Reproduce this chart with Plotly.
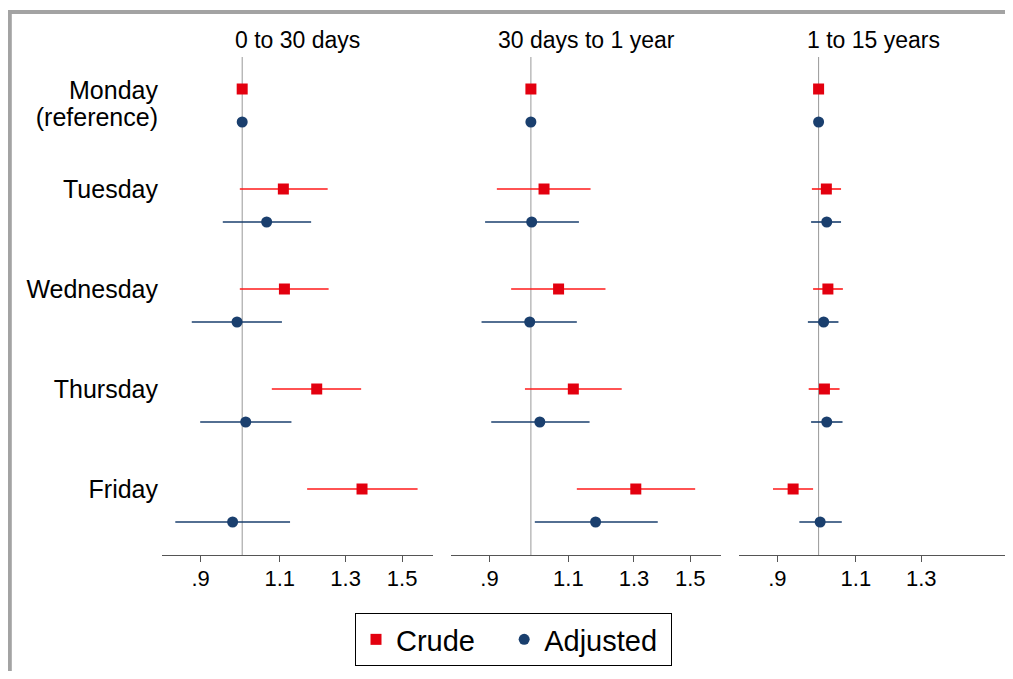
import plotly.graph_objects as go

# ---------------- data ----------------
days = ["Monday", "Tuesday", "Wednesday", "Thursday", "Friday"]
day_labels = ["Monday", "(reference)", "Tuesday", "Wednesday", "Thursday", "Friday"]
panels = ["0 to 30 days", "30 days to 1 year", "1 to 15 years"]
series_names = ["Crude", "Adjusted"]

# panel 1: 0 to 30 days
p1_crude = [1.000, 1.110, 1.113, 1.208, 1.355]
p1_crude_lo = [1.000, 0.994, 0.994, 1.078, 1.179]
p1_crude_hi = [1.000, 1.242, 1.245, 1.352, 1.560]
p1_adj = [1.000, 1.064, 0.987, 1.009, 0.976]
p1_adj_lo = [1.000, 0.952, 0.880, 0.899, 0.844]
p1_adj_hi = [1.000, 1.191, 1.106, 1.133, 1.129]

# panel 2: 30 days to 1 year
p2_crude = [1.000, 1.034, 1.073, 1.114, 1.306]
p2_crude_lo = [1.000, 0.917, 0.951, 0.985, 1.124]
p2_crude_hi = [1.000, 1.164, 1.209, 1.260, 1.519]
p2_adj = [1.000, 1.002, 0.997, 1.023, 1.179]
p2_adj_lo = [1.000, 0.890, 0.882, 0.904, 1.010]
p2_adj_hi = [1.000, 1.130, 1.124, 1.161, 1.381]

# panel 3: 1 to 15 years
p3_crude = [1.000, 1.020, 1.024, 1.015, 0.937]
p3_crude_lo = [1.000, 0.983, 0.986, 0.975, 0.890]
p3_crude_hi = [1.000, 1.059, 1.064, 1.055, 0.986]
p3_adj = [1.000, 1.021, 1.013, 1.021, 1.004]
p3_adj_lo = [1.000, 0.981, 0.973, 0.981, 0.952]
p3_adj_hi = [1.000, 1.059, 1.052, 1.063, 1.061]

tick_vals = [[0.9, 1.1, 1.3, 1.5], [0.9, 1.1, 1.3, 1.5], [0.9, 1.1, 1.3]]
tick_text = [[".9", "1.1", "1.3", "1.5"], [".9", "1.1", "1.3", "1.5"], [".9", "1.1", "1.3"]]

crude_sets = [(p1_crude, p1_crude_lo, p1_crude_hi),
              (p2_crude, p2_crude_lo, p2_crude_hi),
              (p3_crude, p3_crude_lo, p3_crude_hi)]
adj_sets = [(p1_adj, p1_adj_lo, p1_adj_hi),
            (p2_adj, p2_adj_lo, p2_adj_hi),
            (p3_adj, p3_adj_lo, p3_adj_hi)]

# ---------------- layout constants ----------------
OFF = 8                      # default page body margin
W, H = 1013 - OFF, 679 - 2 * OFF
FONT = "Liberation Sans, Arial, Helvetica, sans-serif"
RED_M = "#e3000f"
RED_L = "#ff1a1a"
NAVY = "#1a3f6e"
NBSP = "\u00a0"


def fx(px):
    return (px - OFF) / W


def fy(py):
    return 1 - (py - OFF) / H


row_y = list(range(len(days)))
crude_y = [r for r in row_y]
adj_y = [r + 0.33 for r in row_y]
label_y = [0.01, 0.28] + row_y[1:]

x_px = [(162, 433), (451, 721), (739, 1008)]
y_top_px, y_bot_px = 57, 555
xrange_log = [-0.0883, 0.2101]
yrange = [4.66, -0.32]

fig = go.Figure()

for i in range(3):
    xa = "x" if i == 0 else f"x{i+1}"
    ya = "y" if i == 0 else f"y{i+1}"
    c, clo, chi = crude_sets[i]
    a, alo, ahi = adj_sets[i]
    fig.add_trace(go.Scatter(
        x=c, y=crude_y, xaxis=xa, yaxis=ya, mode="markers",
        name=series_names[0] + NBSP * 3,
        showlegend=(i == 0), legendgroup="crude",
        marker=dict(symbol="square", size=11, color=RED_M),
        error_x=dict(type="data", symmetric=False,
                     array=[h - v for h, v in zip(chi, c)],
                     arrayminus=[v - l for v, l in zip(c, clo)],
                     color=RED_L, thickness=1.6, width=0),
        hoverinfo="skip"))
    fig.add_trace(go.Scatter(
        x=a, y=adj_y, xaxis=xa, yaxis=ya, mode="markers",
        name=series_names[1] + NBSP,
        showlegend=(i == 0), legendgroup="adj",
        marker=dict(symbol="circle", size=11, color=NAVY),
        error_x=dict(type="data", symmetric=False,
                     array=[h - v for h, v in zip(ahi, a)],
                     arrayminus=[v - l for v, l in zip(a, alo)],
                     color=NAVY, thickness=1.6, width=0),
        hoverinfo="skip"))

layout = dict(
    width=W, height=H,
    margin=dict(l=0, r=0, t=0, b=0),
    paper_bgcolor="white", plot_bgcolor="white",
    font=dict(family=FONT, color="black"),
    showlegend=True,
    legend=dict(orientation="h", x=fx(513.5), xanchor="center",
                y=fy(613), yanchor="top",
                bordercolor="black", borderwidth=1,
                font=dict(size=29, family=FONT), bgcolor="white",
                traceorder="normal"),
)

shapes = []
annotations = []
for i in range(3):
    xk = "xaxis" if i == 0 else f"xaxis{i+1}"
    yk = "yaxis" if i == 0 else f"yaxis{i+1}"
    xa = "x" if i == 0 else f"x{i+1}"
    ya = "y" if i == 0 else f"y{i+1}"
    layout[xk] = dict(
        type="log", range=xrange_log, anchor=ya,
        domain=[fx(x_px[i][0]), fx(x_px[i][1])],
        tickvals=tick_vals[i], ticktext=tick_text[i],
        ticks="outside", ticklen=6, tickwidth=1, tickcolor="#555555",
        showline=True, linecolor="#555555", linewidth=1,
        showgrid=False, zeroline=False,
        ticklabelstandoff=-2,
        tickfont=dict(size=22, family=FONT, color="black"),
    )
    layout[yk] = dict(
        range=yrange, anchor=xa,
        domain=[fy(y_bot_px), fy(y_top_px)],
        showgrid=False, zeroline=False, showline=False,
        tickvals=label_y if i == 0 else [],
        ticktext=day_labels if i == 0 else [],
        showticklabels=(i == 0), ticks="",
        ticklabelstandoff=3,
        tickfont=dict(size=25, family=FONT, color="black"),
    )
    # reference line at 1
    shapes.append(dict(type="line", xref=xa, yref=f"{ya} domain",
                       x0=1, x1=1, y0=0, y1=1,
                       line=dict(color="#999999", width=1), layer="below"))
    annotations.append(dict(text=panels[i], xref=f"{xa} domain", yref="paper",
                            x=0.5, y=fy(40), xanchor="center", yanchor="middle",
                            showarrow=False, font=dict(size=23, family=FONT, color="black")))

# outer frame (only top and left edges are visible in the crop)
shapes.append(dict(type="line", xref="paper", yref="paper",
                   x0=fx(7.8), x1=1.0, y0=fy(12), y1=fy(12),
                   line=dict(color="#a3a3a3", width=4)))
shapes.append(dict(type="line", xref="paper", yref="paper",
                   x0=fx(9.8), x1=fx(9.8), y0=0.0, y1=fy(10),
                   line=dict(color="#a3a3a3", width=4)))

layout["shapes"] = shapes
layout["annotations"] = annotations
fig.update_layout(**layout)

fig.write_html("out.html")
